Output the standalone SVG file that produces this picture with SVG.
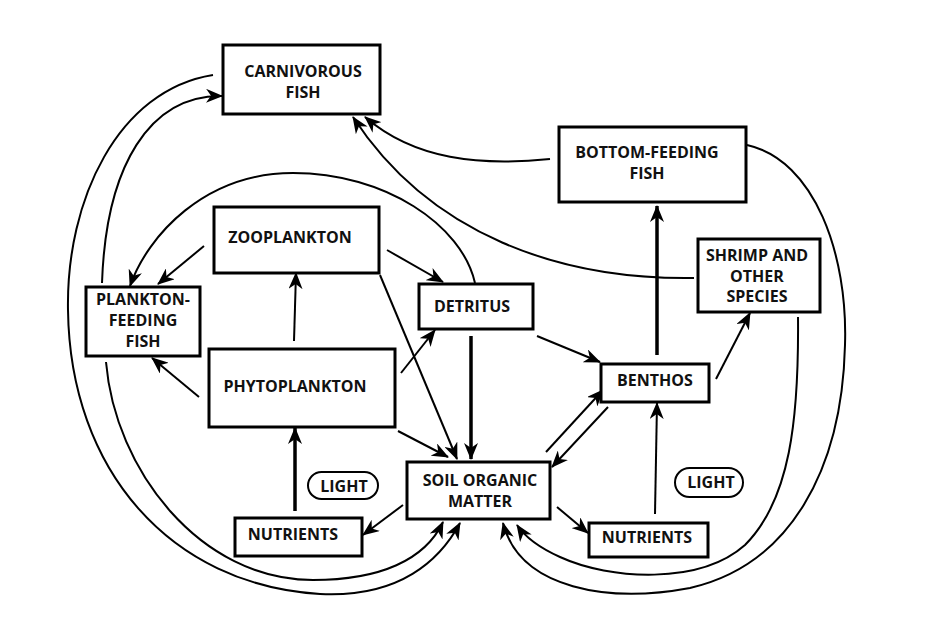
<svg xmlns="http://www.w3.org/2000/svg" width="941" height="635" viewBox="0 0 941 635">
<defs>
<marker id="ah" viewBox="0 0 17 14" refX="16" refY="7" markerWidth="17" markerHeight="14" markerUnits="userSpaceOnUse" orient="auto">
<path d="M0,0 L17,7 L0,14 L5,7 z" fill="#000"/>
</marker>
<style>
.box{fill:#fff;stroke:#000;stroke-width:3}
.pill{fill:#fff;stroke:#000;stroke-width:2}
.t{font-family:"Open Sans","Noto Sans","DejaVu Sans",sans-serif;font-weight:700;font-size:16px;fill:#111;text-anchor:middle}
.c{fill:none;stroke:#000;stroke-width:2}
.a{marker-end:url(#ah)}
.thick{stroke-width:3.5}
</style>
</defs>
<rect width="941" height="635" fill="#fff"/>
<g id="connectors">
<path class="c a" d="M204,246 L158,284"/>
<path class="c a" d="M475,283 C462,225 385,173 293,173 C205,173 148,235 130,286"/>
<path class="c a" d="M199,397 L152,358"/>
<path class="c a" d="M294,341 L296,273"/>
<path class="c a" d="M387,250 L443,282"/>
<path class="c a" d="M380,275 L457,459"/>
<path class="c a" d="M401,373 L435,330"/>
<path class="c a" d="M398,431 L448,457"/>
<path class="c a thick" d="M471,336 L471,459"/>
<path class="c a" d="M537,336 L600,362"/>
<path class="c a" d="M546,452 L603,390"/>
<path class="c a" d="M608,407 L552,467"/>
<path class="c a thick" d="M657,355 L657,206"/>
<path class="c a" d="M716,379 L750,313"/>
<path class="c a" d="M655,514 L657,403"/>
<path class="c a" d="M557,507 L588,533"/>
<path class="c a" d="M403,505 L363,535"/>
<path class="c a thick" d="M295,511 L295,428"/>
<path class="c a" d="M550,159 C480,166 415,160 365,117"/>
<path class="c a" d="M694,278 C560,280 430,235 353,117"/>
<path class="c a" d="M102,283 C106,165 150,95 222,96"/>
<path class="c a" d="M213,75 C118,90 66,200 68,310 C70,470 170,585 320,594 C400,598 440,560 460,523"/>
<path class="c a" d="M106,362 C115,470 200,580 313,580 C380,580 425,560 443,522"/>
<path class="c a" d="M747,145 C815,160 848,255 845,345 C842,470 790,565 690,588 C610,603 520,590 503,523"/>
<path class="c a" d="M798,317 C799,420 790,500 745,545 C700,585 610,580 560,557 C540,548 525,537 517,525"/>
</g>
<g id="carnivorous-fish">
<rect class="box" x="223" y="45" width="157" height="69"/>
<text class="t" x="303" y="77">CARNIVOROUS</text>
<text class="t" x="303" y="98">FISH</text>
</g>
<g id="bottom-feeding-fish">
<rect class="box" x="559" y="127" width="187" height="75"/>
<text class="t" x="647" y="158">BOTTOM-FEEDING</text>
<text class="t" x="647" y="179">FISH</text>
</g>
<g id="shrimp">
<rect class="box" x="698" y="239" width="122" height="73"/>
<text class="t" x="757" y="261">SHRIMP AND</text>
<text class="t" x="757" y="282">OTHER</text>
<text class="t" x="757" y="302">SPECIES</text>
</g>
<g id="zooplankton">
<rect class="box" x="214" y="207" width="165" height="66"/>
<text class="t" x="290" y="243">ZOOPLANKTON</text>
</g>
<g id="plankton-feeding-fish">
<rect class="box" x="86" y="287" width="114" height="69"/>
<text class="t" x="143" y="305">PLANKTON-</text>
<text class="t" x="143" y="326">FEEDING</text>
<text class="t" x="143" y="347">FISH</text>
</g>
<g id="detritus">
<rect class="box" x="419" y="284" width="114" height="45"/>
<text class="t" x="472" y="312">DETRITUS</text>
</g>
<g id="phytoplankton">
<rect class="box" x="209" y="349" width="186" height="78"/>
<text class="t" x="295" y="392">PHYTOPLANKTON</text>
</g>
<g id="benthos">
<rect class="box" x="601" y="364" width="108" height="38"/>
<text class="t" x="655" y="386">BENTHOS</text>
</g>
<g id="soil-organic-matter">
<rect class="box" x="407" y="462" width="143" height="57"/>
<text class="t" x="480" y="486">SOIL ORGANIC</text>
<text class="t" x="480" y="507">MATTER</text>
</g>
<g id="nutrients-right">
<rect class="box" x="589" y="523" width="119" height="34"/>
<text class="t" x="647" y="543">NUTRIENTS</text>
</g>
<g id="nutrients-left">
<rect class="box" x="235" y="518" width="127" height="38"/>
<text class="t" x="293" y="540">NUTRIENTS</text>
</g>
<g id="light-left">
<rect class="pill" x="308" y="472" width="70" height="27" rx="13.5"/>
<text class="t" x="344" y="492">LIGHT</text>
</g>
<g id="light-right">
<rect class="pill" x="675" y="468" width="68" height="29" rx="14.5"/>
<text class="t" x="711" y="488">LIGHT</text>
</g>
</svg>
